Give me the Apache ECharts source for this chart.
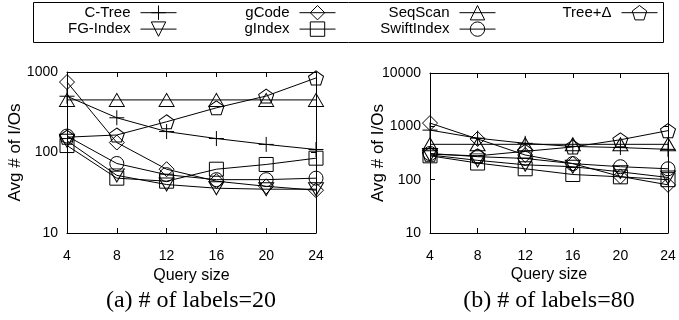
<!DOCTYPE html>
<html><head><meta charset="utf-8">
<script src="https://cdn.jsdelivr.net/npm/echarts@6/dist/echarts.min.js"></script>
<style>html,body{margin:0;padding:0;background:#fff}#c{width:679px;height:320px}</style>
</head><body><div id="c"></div>
<script>
const querySizes = [4, 8, 12, 16, 20, 24];
const seriesNames = ['C-Tree', 'gCode', 'SeqScan', 'Tree+Δ', 'FG-Index', 'gIndex', 'SwiftIndex'];
// (a) # of labels = 20
const a_CTree = [500, 270, 182, 149, 126, 109];
const a_gCode = [750, 133, 62, 44, 38, 34];
const a_SeqScan = [450, 450, 450, 450, 450, 450];
const a_TreeDelta = [155, 165, 241, 359, 503, 843];
const a_FGIndex = [140, 52, 40, 36, 35, 35];
const a_gIndex = [122, 48, 44, 62, 71, 85];
const a_SwiftIndex = [160, 73, 53, 46, 46, 48];
// (b) # of labels = 80
const b_CTree = [850, 600, 480, 420, 400, 370];
const b_gCode = [1150, 580, 290, 200, 115, 80];
const b_SeqScan = [460, 460, 460, 460, 460, 460];
const b_TreeDelta = [300, 280, 340, 410, 560, 830];
const b_FGIndex = [290, 230, 190, 175, 140, 110];
const b_gIndex = [280, 205, 160, 125, 113, 100];
const b_SwiftIndex = [310, 270, 250, 200, 175, 160];
const leftYTicks = [10, 100, 1000];
const rightYTicks = [10, 100, 1000, 10000];

const symbols = {
  'C-Tree': 'path://M5,0L5,10M0,5L10,5',
  'gCode': 'diamond',
  'SeqScan': 'triangle',
  'Tree+Δ': 'path://M5,0L10,3.8L8.1,10L1.9,10L0,3.8Z',
  'FG-Index': 'path://M0,0L10,0L5,10Z',
  'gIndex': 'rect',
  'SwiftIndex': 'circle'
};
const sizes = {'C-Tree':[15,15],'gCode':[15,15],'SeqScan':[15,13],'Tree+Δ':[15,14],'FG-Index':[15,13],'gIndex':[14,14],'SwiftIndex':[14,14]};
const aData = [a_CTree, a_gCode, a_SeqScan, a_TreeDelta, a_FGIndex, a_gIndex, a_SwiftIndex];
const bData = [b_CTree, b_gCode, b_SeqScan, b_TreeDelta, b_FGIndex, b_gIndex, b_SwiftIndex];

const FONT = 'Liberation Sans';
function mkSeries(name, vals, xi, yi) {
  return {
    name, type: 'line', xAxisIndex: xi, yAxisIndex: yi,
    data: querySizes.map((q, i) => [q, vals[i]]),
    symbol: symbols[name], symbolSize: sizes[name],
    showAllSymbol: true, animation: false, silent: true,
    lineStyle: {color: '#000', width: 1},
    itemStyle: {color: 'rgba(0,0,0,0)', borderColor: '#000', borderWidth: 1}
  };
}
const series = [];
seriesNames.forEach((n, i) => series.push(mkSeries(n, aData[i], 0, 0)));
seriesNames.forEach((n, i) => series.push(mkSeries(n, bData[i], 2, 2)));

function xAx(gi, pos, labels) {
  return {
    type: 'value', gridIndex: gi, position: pos, min: 4, max: 24, interval: 4,
    name: labels ? 'Query size' : '', nameLocation: 'middle', nameGap: 34,
    nameTextStyle: {fontFamily: FONT, fontSize: 16, color: '#000'},
    axisLine: {show: true, onZero: false, lineStyle: {color: '#000', width: 1}},
    axisTick: {show: true, inside: true, length: 5, lineStyle: {color: '#000'}},
    axisLabel: {show: labels, fontFamily: FONT, fontSize: 14, color: '#000', margin: 16},
    splitLine: {show: false}
  };
}
function yAx(gi, pos, max, ticks, labels) {
  return {
    type: 'log', logBase: 10, gridIndex: gi, position: pos, min: 10, max: max,
    name: labels ? 'Avg # of I/Os' : '', nameLocation: 'middle', nameGap: 43, nameRotate: 90,
    nameMoveOverlap: false,
    nameTextStyle: {fontFamily: FONT, fontSize: 17, color: '#000'},
    axisLine: {show: true, onZero: false, lineStyle: {color: '#000', width: 1}},
    axisTick: {show: true, inside: true, length: 5, lineStyle: {color: '#000'}},
    axisLabel: {show: labels, fontFamily: FONT, fontSize: 14, color: '#000', margin: 9,
      formatter: v => String(ticks.find(t => Math.abs(t - v) / t < 1e-6) || Math.round(v))},
    splitLine: {show: false}
  };
}

function legendCol(names, right) {
  return {
    data: names, orient: 'vertical', align: 'right', right: right, top: 5,
    padding: 0, itemGap: 1, itemWidth: 36, itemHeight: 18,
    selectedMode: false,
    itemStyle: {color: 'rgba(0,0,0,0)', borderColor: '#000', borderWidth: 1},
    lineStyle: {color: '#000', width: 1},
    textStyle: {fontFamily: FONT, fontSize: 15, color: '#000', padding: [0, 5, 0, 0]}
  };
}

const chart = echarts.init(document.getElementById('c'), null, {renderer: 'canvas'});
chart.setOption({
  animation: false,
  backgroundColor: '#fff',
  grid: [
    {left: 67, right: 363, top: 72, bottom: 87},
    {left: 430, right: 11, top: 73, bottom: 87}
  ],
  xAxis: [xAx(0, 'bottom', true), xAx(0, 'top', false), xAx(1, 'bottom', true), xAx(1, 'top', false)],
  yAxis: [yAx(0, 'left', 1000, leftYTicks, true), yAx(0, 'right', 1000, leftYTicks, false),
          yAx(1, 'left', 10000, rightYTicks, true), yAx(1, 'right', 10000, rightYTicks, false)],
  legend: [
    legendCol(['C-Tree', 'FG-Index'], 502),
    legendCol(['gCode', 'gIndex'], 343),
    legendCol(['SeqScan', 'SwiftIndex'], 183),
    legendCol(['Tree+Δ'], 21)
  ],
  graphic: [
    {type: 'rect', shape: {x: 33.5, y: 2.5, width: 630, height: 40}, style: {fill: 'none', stroke: '#000', lineWidth: 1}, silent: true},
    {type: 'text', x: 191, y: 301, style: {text: '(a) # of labels=20', font: '24px "Liberation Serif"', fill: '#000', textAlign: 'center', textVerticalAlign: 'middle'}},
    {type: 'text', x: 549, y: 301, style: {text: '(b) # of labels=80', font: '24px "Liberation Serif"', fill: '#000', textAlign: 'center', textVerticalAlign: 'middle'}}
  ],
  series: series
});
</script></body></html>
